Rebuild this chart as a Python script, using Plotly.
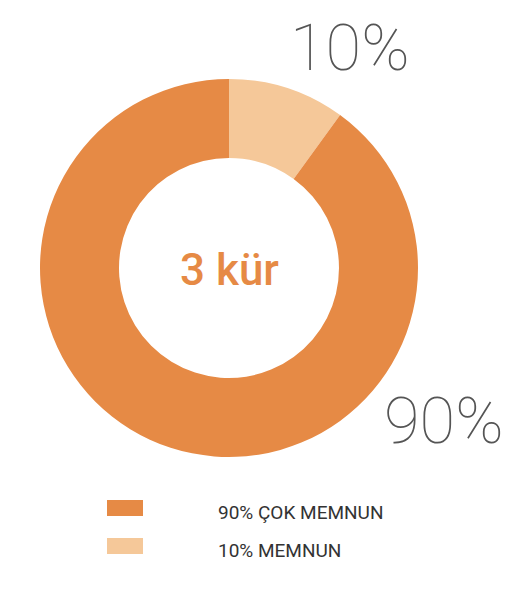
import plotly.graph_objects as go

labels = ["90% ÇOK MEMNUN", "10% MEMNUN"]
values = [90, 10]
colors = ["#E68A45", "#F5C899"]
pct_text = ["90%", "10%"]
center_text = "3 kür"

W, H = 524, 589
OFF = 8  # page body margin


def px(x):
    return (x - OFF) / W


def py(y):
    return 1 - (y - OFF) / H


# small slice first so it sits just right of 12 o'clock
fig = go.Figure(go.Pie(
    labels=labels[::-1],
    values=values[::-1],
    hole=0.582,
    sort=False,
    direction="clockwise",
    rotation=0,
    marker=dict(colors=colors[::-1], line=dict(width=0)),
    textinfo="none",
    hoverinfo="label+percent",
    domain=dict(x=[px(40), px(418)], y=[py(457), py(79)]),
    showlegend=False,
))

# big percentage labels outside the ring
big = dict(family="Roboto", size=65, color="#555555", weight=100)
fig.add_annotation(x=px(444), y=py(421), text=pct_text[0], showarrow=False,
                   xref="paper", yref="paper", xanchor="center", yanchor="middle", font=big)
fig.add_annotation(x=px(350), y=py(48), text=pct_text[1], showarrow=False,
                   xref="paper", yref="paper", xanchor="center", yanchor="middle", font=big)

# centre text
fig.add_annotation(x=px(229), y=py(270), text=center_text, showarrow=False,
                   xref="paper", yref="paper", xanchor="center", yanchor="middle",
                   font=dict(family="Roboto", size=44, color="#E68A45", weight=500))

# legend drawn by hand (wide colour keys, text far to the right)
for i, (lab, col) in enumerate(zip(labels, colors)):
    yc = 508 + i * 38
    fig.add_shape(type="rect", xref="paper", yref="paper",
                  x0=px(107), x1=px(143), y0=py(yc + 8), y1=py(yc - 8),
                  fillcolor=col, line=dict(width=0))
    fig.add_annotation(x=px(216), y=py(yc + 4), text=lab, showarrow=False,
                       xref="paper", yref="paper", xanchor="left", yanchor="middle",
                       font=dict(family="Roboto", size=19, color="#333333"))

fig.update_layout(
    width=W, height=H,
    margin=dict(l=0, r=0, t=0, b=0),
    paper_bgcolor="white",
    plot_bgcolor="white",
)

fig.write_html("out.html")
